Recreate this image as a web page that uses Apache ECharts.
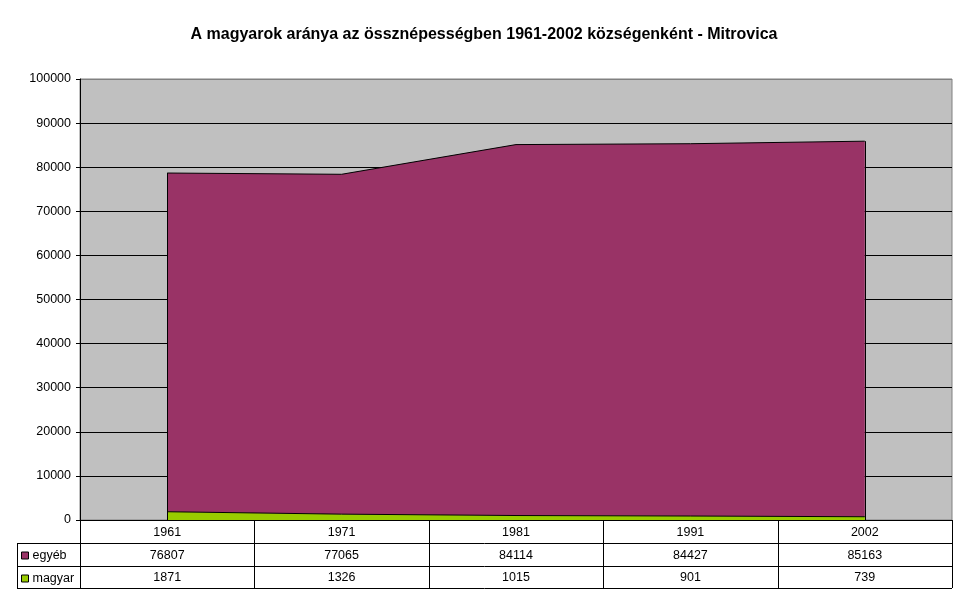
<!DOCTYPE html>
<html><head><meta charset="utf-8">
<script src="https://cdn.jsdelivr.net/npm/echarts@6/dist/echarts.min.js"></script>
<style>html,body{margin:0;padding:0;background:#fff}#c{width:968px;height:604px}</style>
</head><body><div id="c"></div>
<script>
const titleText = 'A magyarok aránya az össznépességben 1961-2002 községenként - Mitrovica';
const categories = ['1961', '1971', '1981', '1991', '2002'];
const egyeb = [76807, 77065, 84114, 84427, 85163];
const magyar = [1871, 1326, 1015, 901, 739];
const yTicks = [0, 10000, 20000, 30000, 40000, 50000, 60000, 70000, 80000, 90000, 100000];
const seriesNames = ['egyéb', 'magyar'];
const seriesColors = ['#993366', '#99CC00'];

const W = 968, H = 604;
const gL = 80, gR = 952, gT = 79, gB = 520;
const rows = [520, 543, 566, 588];
const tabL = 17;
const FONT = 'Liberation Sans, Arial, sans-serif';
const cellW = (gR - gL) / categories.length;

const chart = echarts.init(document.getElementById('c'), null, {renderer: 'canvas'});

const graphics = [];
const line = (x1, y1, x2, y2) => graphics.push({type: 'line', shape: {x1, y1, x2, y2}, style: {stroke: '#000', lineWidth: 1}, silent: true, z: 10});
line(tabL, rows[1] + 0.5, gR, rows[1] + 0.5);
line(tabL, rows[2] + 0.5, gR, rows[2] + 0.5);
line(tabL, rows[3] + 0.5, gR, rows[3] + 0.5);
for (let i = 0; i <= categories.length; i++) {
  const x = Math.round(gL + i * cellW) + 0.5;
  line(x, rows[0], x, rows[3]);
}
line(tabL + 0.5, rows[1], tabL + 0.5, rows[3]);
const tableData = [egyeb, magyar];
tableData.forEach((arr, r) => {
  arr.forEach((v, i) => {
    graphics.push({type: 'text', x: gL + (i + 0.5) * cellW, y: (rows[r + 1] + rows[r + 2]) / 2 + 1,
      style: {text: String(v), font: '12.5px ' + FONT, fill: '#000', textAlign: 'center', textVerticalAlign: 'middle'}, z: 10});
  });
});

const splitColors = yTicks.map((t, i) => i === yTicks.length - 1 ? '#808080' : '#000');

chart.setOption({
  animation: false,
  backgroundColor: '#fff',
  title: {text: titleText, left: 'center', top: 22,
    textStyle: {fontFamily: FONT, fontSize: 16, fontWeight: 'bold', color: '#000'}},
  legend: [
    {data: [seriesNames[0]], left: 21, top: 549, itemWidth: 7, itemHeight: 7, itemGap: 4, icon: 'rect',
      textStyle: {fontFamily: FONT, fontSize: 12.5, color: '#000', padding: [0, 0, 0, -1]}, padding: 0,
      itemStyle: {borderColor: '#000', borderWidth: 1}},
    {data: [seriesNames[1]], left: 21, top: 572, itemWidth: 7, itemHeight: 7, itemGap: 4, icon: 'rect',
      textStyle: {fontFamily: FONT, fontSize: 12.5, color: '#000', padding: [0, 0, 0, -1]}, padding: 0,
      itemStyle: {borderColor: '#000', borderWidth: 1}}
  ],
  grid: {left: gL, right: W - gR, top: gT, bottom: H - gB, show: true, backgroundColor: '#C0C0C0', borderColor: '#808080', borderWidth: 1},
  xAxis: {type: 'category', data: categories, boundaryGap: true,
    axisLine: {lineStyle: {color: '#000', width: 1}},
    axisTick: {show: false},
    axisLabel: {fontFamily: FONT, fontSize: 12.5, color: '#000', margin: 6},
    splitLine: {show: false}},
  yAxis: {type: 'value', min: yTicks[0], max: yTicks[yTicks.length - 1], interval: yTicks[1] - yTicks[0],
    axisLine: {show: true, lineStyle: {color: '#000', width: 1}},
    axisTick: {show: true, length: 4, lineStyle: {color: '#000'}},
    axisLabel: {fontFamily: FONT, fontSize: 12.5, color: '#000', margin: 9, formatter: v => String(v)},
    splitLine: {show: true, lineStyle: {color: splitColors, width: 1}}},
  series: [
    {name: seriesNames[1], type: 'line', stack: 'total', data: magyar, symbol: 'none',
      lineStyle: {color: '#000', width: 1}, itemStyle: {color: seriesColors[1]},
      areaStyle: {color: seriesColors[1], opacity: 1}, z: 3},
    {name: seriesNames[0], type: 'line', stack: 'total', data: egyeb, symbol: 'none',
      lineStyle: {color: '#000', width: 1}, itemStyle: {color: seriesColors[0]},
      areaStyle: {color: seriesColors[0], opacity: 1}, z: 2,
      markLine: {symbol: 'none', silent: true, label: {show: false}, lineStyle: {color: '#000', width: 1, type: 'solid'},
        data: [
          [{coord: [0, 0]}, {coord: [0, egyeb[0] + magyar[0]]}],
          [{coord: [categories.length - 1, 0]}, {coord: [categories.length - 1, egyeb[categories.length - 1] + magyar[categories.length - 1]]}]
        ]}}
  ],
  graphic: graphics
});
</script></body></html>
